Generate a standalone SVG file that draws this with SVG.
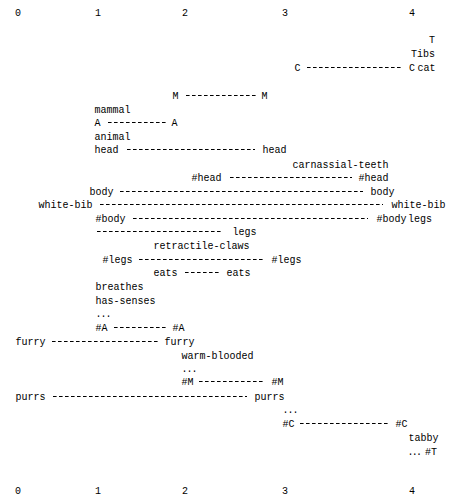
<svg xmlns="http://www.w3.org/2000/svg" width="462" height="503" viewBox="0 0 462 503">
<style>
text{font-family:"Liberation Mono","DejaVu Sans Mono",monospace;font-size:10px;fill:#000}
.ax{text-anchor:middle}
.r{text-anchor:end}
.el{letter-spacing:-1px}
.c line{stroke:#000;stroke-width:1;stroke-dasharray:3.6 2.4}
</style>
<rect width="462" height="503" fill="#fff"/>
<g id="axis-top">
<text class="ax" x="18" y="15.5">0</text><text class="ax" x="98" y="15.5">1</text><text class="ax" x="185" y="15.5">2</text><text class="ax" x="285" y="15.5">3</text><text class="ax" x="412" y="15.5">4</text>
</g>
<g id="axis-bottom">
<text class="ax" x="18" y="493.5">0</text><text class="ax" x="98" y="493.5">1</text><text class="ax" x="185" y="493.5">2</text><text class="ax" x="285" y="493.5">3</text><text class="ax" x="412" y="493.5">4</text>
</g>
<g class="c" id="connectors">
<line x1="307" y1="67.5" x2="403" y2="67.5"/>
<line x1="186" y1="95.5" x2="256" y2="95.5"/>
<line x1="108" y1="122.5" x2="166" y2="122.5"/>
<line x1="127" y1="149.5" x2="255" y2="149.5"/>
<line x1="230" y1="177.5" x2="352" y2="177.5"/>
<line x1="120" y1="191.5" x2="363" y2="191.5"/>
<line x1="100" y1="204.5" x2="383" y2="204.5"/>
<line x1="133" y1="218.5" x2="368" y2="218.5"/>
<line x1="97" y1="231.5" x2="223" y2="231.5"/>
<line x1="139" y1="259.5" x2="265" y2="259.5"/>
<line x1="185" y1="272.5" x2="219" y2="272.5"/>
<line x1="114" y1="327.5" x2="167" y2="327.5"/>
<line x1="52" y1="341.5" x2="158" y2="341.5"/>
<line x1="199" y1="381.5" x2="265" y2="381.5"/>
<line x1="53" y1="396.5" x2="247" y2="396.5"/>
<line x1="300" y1="423.5" x2="389" y2="423.5"/>
</g>
<g id="T"><text class="r" x="435" y="42.5">T</text></g>
<g id="Tibs"><text class="r" x="435" y="56.5">Tibs</text></g>
<g id="C-start"><text x="294.5" y="70.5">C</text></g>
<g id="C-end"><text x="409" y="70.5">C</text></g>
<g id="cat"><text class="r" x="435.5" y="70.5">cat</text></g>
<g id="M-start"><text x="172.5" y="98.5">M</text></g>
<g id="M-end"><text x="261.5" y="98.5">M</text></g>
<g id="mammal"><text x="94.5" y="112.5">mammal</text></g>
<g id="A-start"><text x="94.5" y="125.5">A</text></g>
<g id="A-end"><text x="171.5" y="125.5">A</text></g>
<g id="animal"><text x="94.5" y="139.5">animal</text></g>
<g id="head-start"><text x="94.5" y="152.5">head</text></g>
<g id="head-end"><text x="262.5" y="152.5">head</text></g>
<g id="carnassial-teeth"><text x="292.5" y="167.5">carnassial-teeth</text></g>
<g id="nhead-start"><text x="191.5" y="180.5">#head</text></g>
<g id="nhead-end"><text x="358.5" y="180.5">#head</text></g>
<g id="body-start"><text x="89.5" y="194.5">body</text></g>
<g id="body-end"><text x="370.5" y="194.5">body</text></g>
<g id="white-bib-start"><text x="38.5" y="207.5">white-bib</text></g>
<g id="white-bib-end"><text x="391.5" y="207.5">white-bib</text></g>
<g id="nbody-start"><text x="95.5" y="221.5">#body</text></g>
<g id="nbody-end"><text x="376.5" y="221.5">#body</text></g>
<g id="legs-start"><text x="408" y="221.5">legs</text></g>
<g id="legs-end"><text x="232.5" y="234.5">legs</text></g>
<g id="retractile-claws"><text x="153.5" y="248.5">retractile-claws</text></g>
<g id="nlegs-start"><text x="102.5" y="262.5">#legs</text></g>
<g id="nlegs-end"><text x="271.5" y="262.5">#legs</text></g>
<g id="eats-start"><text x="153.5" y="275.5">eats</text></g>
<g id="eats-end"><text x="226.5" y="275.5">eats</text></g>
<g id="breathes"><text x="95.5" y="289.5">breathes</text></g>
<g id="has-senses"><text x="95.5" y="303.5">has-senses</text></g>
<g id="ellipsis-A"><text class="el" x="95.5" y="316.5">...</text></g>
<g id="nA-start"><text x="95.5" y="330.5">#A</text></g>
<g id="nA-end"><text x="172.5" y="330.5">#A</text></g>
<g id="furry-start"><text x="15.5" y="344.5">furry</text></g>
<g id="furry-end"><text x="164.5" y="344.5">furry</text></g>
<g id="warm-blooded"><text x="181.5" y="358.5">warm-blooded</text></g>
<g id="ellipsis-M"><text class="el" x="181.5" y="371.5">...</text></g>
<g id="nM-start"><text x="181.5" y="384.5">#M</text></g>
<g id="nM-end"><text x="271.5" y="384.5">#M</text></g>
<g id="purrs-start"><text x="15.5" y="399.5">purrs</text></g>
<g id="purrs-end"><text x="254.5" y="399.5">purrs</text></g>
<g id="ellipsis-C"><text class="el" x="282.5" y="412.5">...</text></g>
<g id="nC-start"><text x="282.5" y="426.5">#C</text></g>
<g id="nC-end"><text x="395.5" y="426.5">#C</text></g>
<g id="tabby"><text x="408.5" y="440.5">tabby</text></g>
<g id="ellipsis-T"><text x="407.5" y="454.5" style="letter-spacing:-1.8px">...</text></g>
<g id="nT"><text x="425" y="454.5">#T</text></g>
</svg>
